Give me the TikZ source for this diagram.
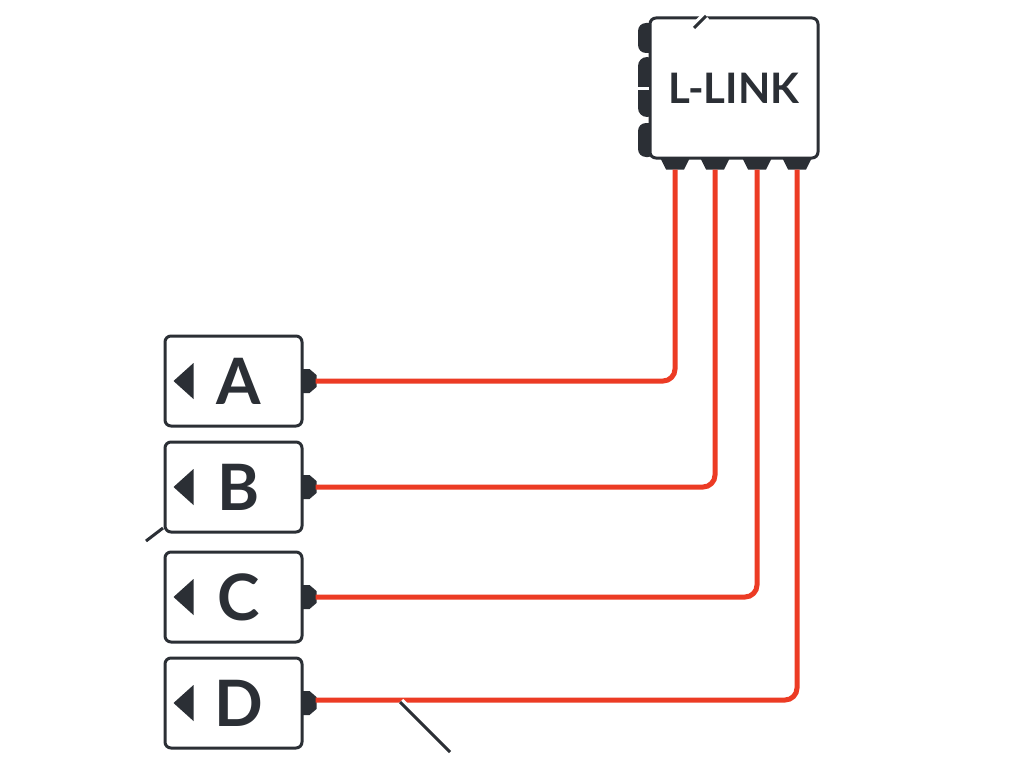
\documentclass[tikz,border=0pt]{standalone}
\usepackage{fontspec}
\setmainfont{Lato}
\usetikzlibrary{calc}
\definecolor{ink}{HTML}{2B2F35}
\definecolor{wirered}{HTML}{EC3B24}
\tikzset{
  unitbox/.style={draw=ink,line width=3pt,rounded corners=6pt,fill=white,minimum width=137pt,minimum height=90pt,inner sep=0pt},
  letter/.style={font=\fontsize{64}{68}\bfseries\selectfont,text=ink,inner sep=0pt},
  wire/.style={draw=wirered,line width=5pt,rounded corners=12pt},
  cut/.style={draw=ink,line width=3pt,preaction={draw=white,line width=9pt}}
}
\newcommand\eastplug[1]{\fill[ink] ($(#1.east)+(-2,-12)$) -- ++(8,0) -- ++(7,6) -- ++(0,12) -- ++(-7,6) -- ++(-8,0) -- cycle;}
\newcommand\arrowmark[1]{\fill[ink] ($(#1.west)+(10,0)$) -- ++(20,-18) -- ++(0,36) -- cycle;}
\newcommand\downplug[1]{\fill[ink] ($(#1)+(-15,-12)$) -- ++(30,0) -- ++(-6,12) -- ++(-18,0) -- cycle;}
\begin{document}
\begin{tikzpicture}[x=1pt,y=-1pt]
\useasboundingbox[fill=white] (0,0) rectangle (1024,768);
% hub
\fill[ink,rounded corners=8pt] (638,23) rectangle (656,53); \fill[ink,rounded corners=9pt] (638,57) rectangle (656,117);
\fill[ink,rounded corners=8pt] (638,123) rectangle (656,157);
\node[draw=ink,line width=3pt,rounded corners=6pt,fill=white,minimum width=168pt,minimum height=140pt,
  font=\fontsize{42}{46}\bfseries\selectfont,text=ink] (hub) at (734,88) {L-LINK};
\draw[white,line width=3pt] (632,88)--(649,88);
\foreach \dx/\n in {-59/1,-19/2,23/3,63/4}{
  \coordinate (p\n) at ($(hub.south)+(\dx,10)$); \downplug{p\n}
}
\draw[cut] (694,28)--(706,16);
% units
\foreach \n/\y in {A/381,B/487,C/597,D/703}{
  \node[unitbox] (\n) at (233.5,\y) {}; \node[letter] (txt\n) at ($(\n.center)+(5,0)$) {\n};
  \arrowmark{\n} \eastplug{\n}
  \coordinate (in\n) at ($(\n.east)+(12,0)$);
}
% wires
\draw[wire] (p1) |- (inA); \draw[wire] (p2) |- (inB);
\draw[wire] (p3) |- (inC); \draw[wire] (p4) |- ($(inD)+(0,-3)$);
\draw[cut] (400,702)--(450,752); \draw[cut] (146,541)--(163,528);
\end{tikzpicture}
\end{document}
